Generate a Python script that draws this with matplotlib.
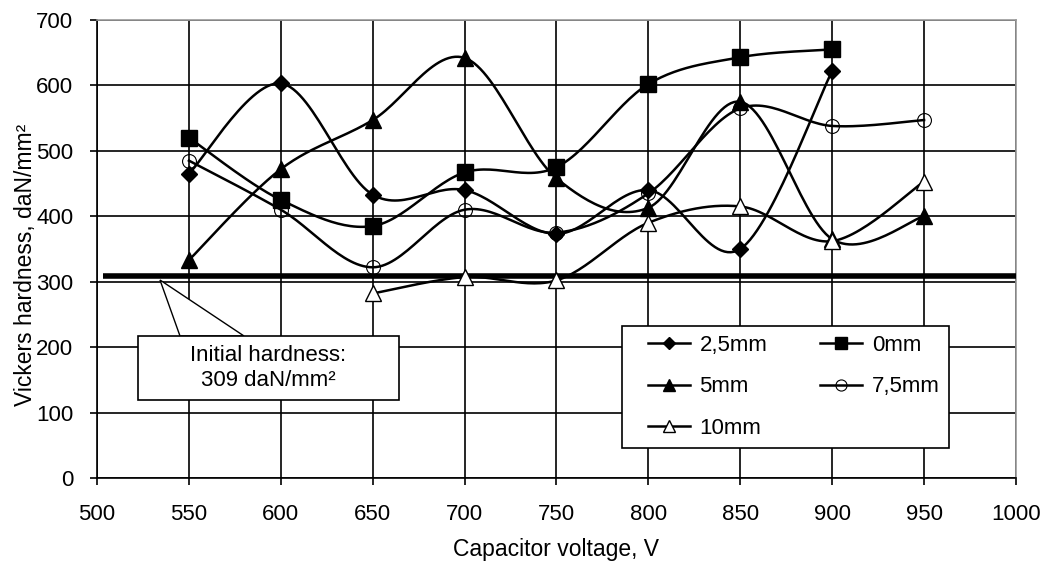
import numpy as np
import matplotlib
matplotlib.use("Agg")
import matplotlib.pyplot as plt
from matplotlib.patches import Polygon, Rectangle
from matplotlib.legend_handler import HandlerLine2D

plt.rcParams['font.family'] = ['Liberation Sans', 'DejaVu Sans']

voltage = [550, 600, 650, 700, 750, 800, 850, 900, 950]
s_2_5mm = [465, 603, 433, 440, 373, 440, 350, 622, None]
s_0mm = [520, 425, 385, 467, 475, 602, 643, 655, None]
s_5mm = [333, 472, 547, 642, 458, 413, 575, 365, 400]
s_7_5mm = [485, 410, 322, 410, 375, 435, 565, 538, 547]
s_10mm = [None, None, 282, 307, 302, 390, 415, 362, 453]
initial_hardness = 309


def smooth(xs, ys, n=30):
    pts = [(x, y) for x, y in zip(xs, ys) if y is not None]
    P = np.array(pts, dtype=float)
    out = []
    for i in range(len(P) - 1):
        p0 = P[i - 1] if i > 0 else P[i]
        p1 = P[i]
        p2 = P[i + 1]
        p3 = P[i + 2] if i + 2 < len(P) else P[i + 1]
        c1 = p1 + (p2 - p0) / 6.0
        c2 = p2 - (p3 - p1) / 6.0
        t = np.linspace(0, 1, n)[:, None]
        seg = ((1 - t) ** 3) * p1 + 3 * ((1 - t) ** 2) * t * c1 + 3 * (1 - t) * t ** 2 * c2 + t ** 3 * p2
        out.append(seg if i == 0 else seg[1:])
    C = np.vstack(out)
    return C[:, 0], C[:, 1], P


class ShiftHandler(HandlerLine2D):
    def __init__(self, off, **kw):
        super().__init__(**kw)
        self.off = off

    def create_artists(self, legend, orig_handle, xdescent, ydescent, width, height, fontsize, trans):
        return super().create_artists(legend, orig_handle, xdescent - self.off, ydescent,
                                      width - self.off, height, fontsize, trans)


FS = 16
fig = plt.figure(figsize=(10.49, 5.62), dpi=100)
ax = fig.add_axes([0.0925, 0.1495, 0.876, 0.815])
ax.set_xlim(500, 1000)
ax.set_ylim(0, 700)
ax.set_xticks(np.arange(500, 1001, 50))
ax.set_yticks(np.arange(0, 701, 100))
ax.grid(True, color='black', linewidth=1.2)
ax.set_axisbelow(True)
for sp in ax.spines.values():
    sp.set_color('#999999')
    sp.set_linewidth(1.2)
ax.spines['bottom'].set_color('black')
ax.spines['left'].set_color('black')
ax.tick_params(axis='both', direction='out', length=5, width=1.2, labelsize=FS, color='black')
ax.tick_params(axis='x', pad=14)
ax.tick_params(axis='y', pad=12)

series = [
    ('2,5mm', s_2_5mm, dict(marker='D', markersize=8, mfc='black', mec='black')),
    ('5mm', s_5mm, dict(marker='^', markersize=11, mfc='black', mec='black')),
    ('10mm', s_10mm, dict(marker='^', markersize=11, mfc='white', mec='black', mew=1.0)),
    ('0mm', s_0mm, dict(marker='s', markersize=11, mfc='black', mec='black')),
    ('7,5mm', s_7_5mm, dict(marker='o', markersize=10, mfc='none', mec='black', mew=0.8)),
]

ax.plot([503, 1000], [initial_hardness, initial_hardness], color='black', linewidth=4, zorder=3, solid_capstyle='butt')

handles = []
for name, ys, mk in series:
    sx, sy, P = smooth(voltage, ys)
    ax.plot(sx, sy, color='black', linewidth=1.8, zorder=4)
    ax.plot(P[:, 0], P[:, 1], linestyle='none', zorder=5, **mk)
    hmk = dict(mk)
    hmk['markersize'] = mk['markersize'] * 0.8
    h, = ax.plot([], [], color='black', linewidth=1.8, **hmk)
    handles.append(h)

leg = ax.legend(handles, [s[0] for s in series], ncol=2, loc='upper left',
                bbox_to_anchor=(0.571, 0.332), fontsize=FS, frameon=True,
                fancybox=False, edgecolor='black', framealpha=1,
                handlelength=2.65, columnspacing=1.6, labelspacing=0.93,
                borderpad=0.4, handletextpad=0.45, borderaxespad=0,
                handler_map={h: ShiftHandler(12.5) for h in handles})
leg.get_frame().set_linewidth(1.2)
leg.set_zorder(10)

# callout
inv = ax.transData.inverted()
def px(x, y):
    return inv.transform((x, 562 - y))

tip = px(160, 280)
b1 = px(180, 336)
b2 = px(244, 336)
ax.add_patch(Polygon([tip, b1, b2], closed=True, facecolor='white', edgecolor='black', linewidth=1.0, zorder=8))
bl = px(138, 400)
tr_ = px(399, 336)
ax.add_patch(Rectangle(bl, tr_[0] - bl[0], tr_[1] - bl[1], facecolor='white', edgecolor='black', linewidth=1.2, zorder=9))
ax.text((bl[0] + tr_[0]) / 2, (bl[1] + tr_[1]) / 2, 'Initial hardness:\n309 daN/mm²',
        ha='center', va='center', fontsize=FS, zorder=10, linespacing=1.2)

ax.set_xlabel('Capacitor voltage, V', fontsize=16.5, labelpad=9)
ax.set_ylabel('Vickers hardness, daN/mm²', fontsize=16.5)
ax.yaxis.set_label_coords(37 / 1049, (562 - 265) / 562, transform=fig.transFigure)

fig.savefig('out.png', dpi=100)
